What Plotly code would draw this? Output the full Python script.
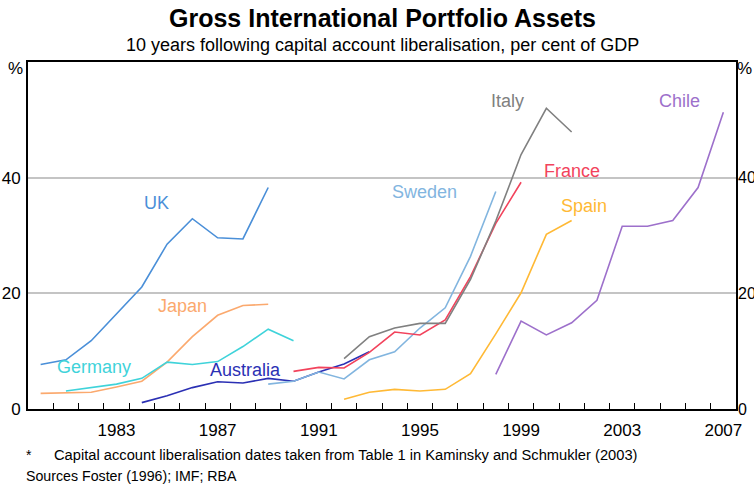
import plotly.graph_objects as go

# Datos: activos de cartera brutos, % del PIB (10 años tras la liberalización)
years_uk = list(range(1980, 1990))
uk = [7.7, 8.5, 11.8, 16.4, 21.1, 28.5, 32.9, 29.6, 29.4, 38.3]

years_japan = list(range(1980, 1990))
japan = [2.7, 2.8, 2.9, 3.8, 4.8, 8.1, 12.5, 16.2, 17.9, 18.1]

years_germany = list(range(1981, 1991))
germany = [3.1, 3.7, 4.3, 5.3, 8.1, 7.7, 8.2, 10.8, 13.8, 11.8]

years_australia = list(range(1984, 1994))
australia = [1.1, 2.3, 3.7, 4.7, 4.5, 5.3, 4.8, 6.4, 7.8, 9.9]

years_sweden = list(range(1989, 1999))
sweden = [4.3, 4.8, 6.4, 5.2, 8.5, 9.9, 14.0, 17.5, 26.4, 37.6]

years_france = list(range(1990, 2000))
france = [6.5, 7.2, 7.1, 9.8, 13.3, 12.8, 15.4, 22.9, 32.1, 39.2]

years_italy = list(range(1992, 2002))
italy = [8.7, 12.5, 14.0, 14.8, 14.8, 22.4, 32.5, 44.0, 52.0, 47.9]

years_spain = list(range(1992, 2002))
spain = [1.7, 2.9, 3.4, 3.1, 3.4, 6.1, 13.0, 20.1, 30.2, 32.6]

years_chile = list(range(1998, 2008))
chile = [6.0, 15.2, 12.8, 14.9, 18.8, 31.6, 31.6, 32.6, 38.3, 51.3]

all_years = list(range(1980, 2008))
labelled_years = [1983, 1987, 1991, 1995, 1999, 2003, 2007]
y_ticks = [0, 20, 40]

# nombre, años, valores, color, posición de la etiqueta (año, valor)
series = [
    ("UK", years_uk, uk, "#4A8FD8", 1984.6, 35.7),
    ("Japan", years_japan, japan, "#FBA96E", 1985.6, 17.8),
    ("Germany", years_germany, germany, "#3FD3DA", 1982.1, 7.2),
    ("Australia", years_australia, australia, "#2B30B4", 1988.1, 6.8),
    ("Sweden", years_sweden, sweden, "#82B5DF", 1995.2, 37.5),
    ("France", years_france, france, "#F2435C", 2001.0, 41.2),
    ("Italy", years_italy, italy, "#808080", 1998.45, 53.2),
    ("Spain", years_spain, spain, "#FFB935", 2001.5, 35.1),
    ("Chile", years_chile, chile, "#9D70CB", 2005.25, 53.2),
]

FONT = "Arial, Liberation Sans, sans-serif"


def nota(x, y, texto, size, xanchor="center"):
    # anotación en coordenadas de papel, centrada en vertical
    return dict(x=x, y=y, xref="paper", yref="paper", text=texto, showarrow=False,
                xanchor=xanchor, yanchor="middle",
                font=dict(family=FONT, size=size, color="black"))


fig = go.Figure()
annotations = []
for name, xs, ys, color, lx, ly in series:
    # Chile va en el eje derecho para que se dibuje la escala de la derecha
    fig.add_trace(go.Scatter(x=xs, y=ys, mode="lines", name=name,
                             yaxis="y2" if name == "Chile" else "y",
                             line=dict(color=color, width=1.6)))
    # eje de categorías: la posición de la etiqueta en índice de año
    annotations.append(dict(x=lx - all_years[0], y=ly, xref="x", yref="y", text=name, showarrow=False,
                            font=dict(family=FONT, size=18, color=color)))

# Títulos y notas
annotations += [
    nota(0.5, 1.127, "<b>Gross International Portfolio Assets</b>", 25),
    nota(0.5, 1.049, "10 years following capital account liberalisation, per cent of GDP", 18),
    nota(-0.017, 0.98, "%", 17),
    nota(1.0127, 0.98, "%", 17),
    nota(-0.006, -0.1326, "*", 14, "left"),
    nota(0.034, -0.1326, "Capital account liberalisation dates taken from Table 1 in Kaminsky and Schmukler (2003)", 14.7, "left"),
    nota(-0.006, -0.193, "Sources Foster (1996); IMF; RBA", 14.2, "left"),
]

fig.update_layout(
    width=754, height=486,
    margin=dict(l=28, r=18, t=62, b=77),
    plot_bgcolor="white", paper_bgcolor="white",
    showlegend=False,
    font=dict(family=FONT, size=17, color="black"),
    annotations=annotations,
    xaxis=dict(
        type="category", categoryorder="array", categoryarray=all_years,
        range=[-0.5, len(all_years) - 0.5], automargin=False,
        tickmode="array", tickvals=all_years,
        ticktext=[str(y) if y in labelled_years else "" for y in all_years],
        tickson="boundaries", ticks="inside", ticklen=6, tickwidth=1.3, tickcolor="black",
        tickangle=0, ticklabelstandoff=5,
        showgrid=False, zeroline=False,
        showline=True, linecolor="black", linewidth=2, mirror=True,
    ),
    yaxis=dict(
        range=[0, 60], tickmode="array", tickvals=y_ticks, automargin=False,
        ticks="", ticklabelstandoff=2,
        showgrid=True, gridcolor="#C4C4C4", gridwidth=1.5, zeroline=False,
        showline=True, linecolor="black", linewidth=2, mirror=True,
    ),
    yaxis2=dict(
        range=[0, 60], tickmode="array", tickvals=y_ticks, overlaying="y", side="right",
        automargin=False, ticks="", ticklabelstandoff=1, tickfont=dict(size=16),
        showgrid=False, zeroline=False, showline=False,
    ),
)

# sin margen del body para que la figura ocupe la ventana exacta
fig.write_html("out.html", config={"displayModeBar": False},
               post_script="document.body.style.margin='0px';")
